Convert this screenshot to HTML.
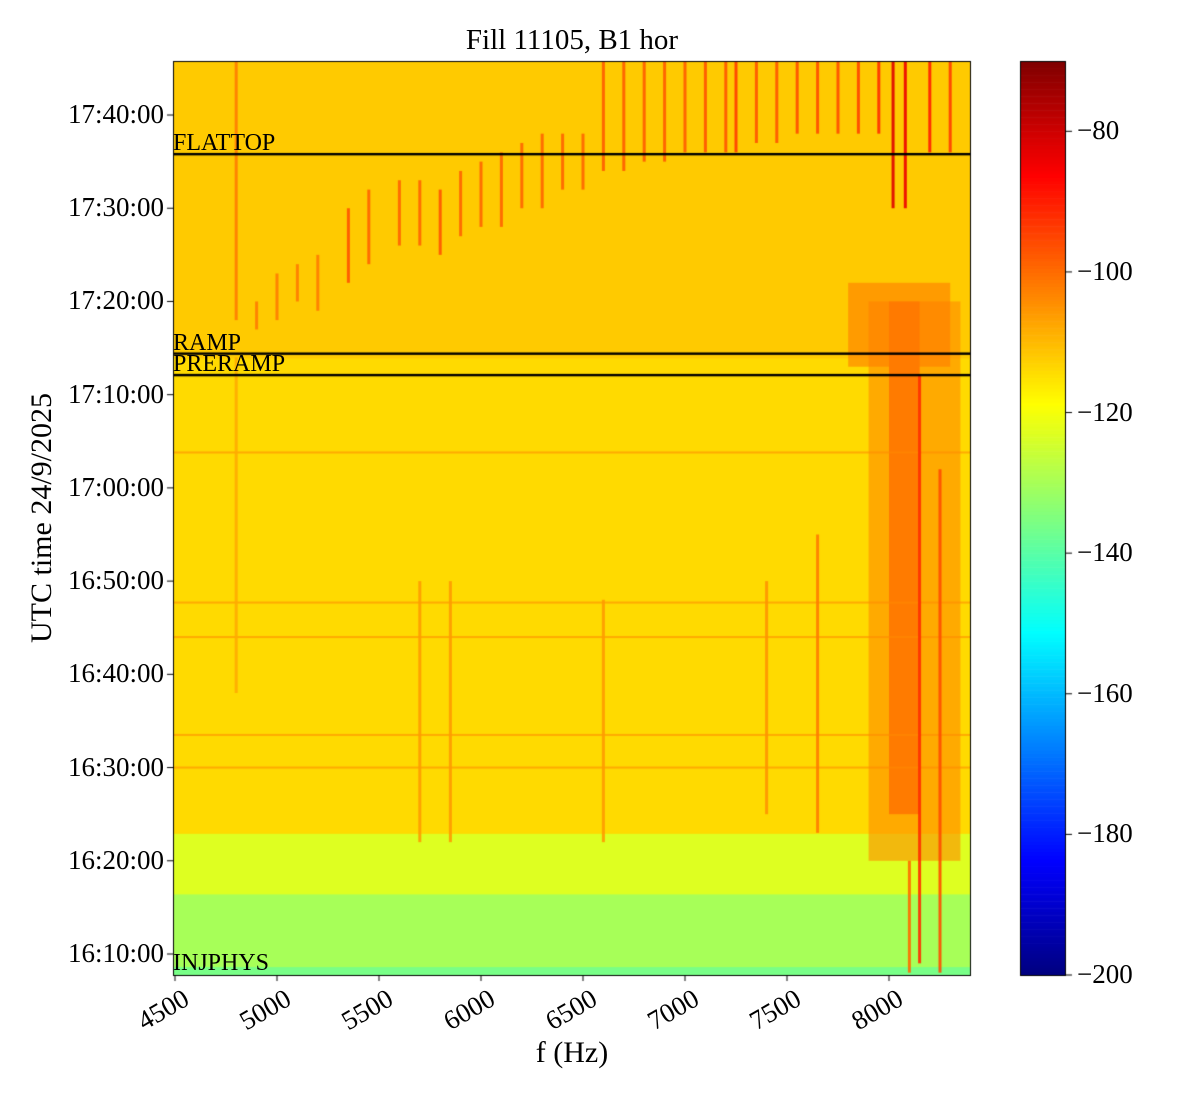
<!DOCTYPE html>
<html><head><meta charset="utf-8">
<style>
body{margin:0;background:#fff;}
#wrap{position:relative;width:1200px;height:1100px;font-family:"Liberation Serif",serif;color:#000;}
canvas{position:absolute;left:0;top:0;}
.t{position:absolute;white-space:nowrap;}
</style></head>
<body>
<div id="wrap">
<canvas id="c" width="1200" height="1100"></canvas>
<div class="t" style="left:0;width:1144px;top:24px;text-align:center;font-size:29px;">Fill 11105, B1 hor</div>
<div class="t" style="left:42px;top:518px;font-size:30px;transform:translate(-50%,-50%) rotate(-90deg);">UTC time 24/9/2025</div>
<div class="t" style="left:572px;top:1036px;transform:translateX(-50%);font-size:30px;">f (Hz)</div>
<div id="labels"></div>
</div>
<script>
// ---- data ----
const timeBandStarts=[7.75,8.7,16.5,23,74];          // minutes after 16:00
const timeBandEnds=[8.7,16.5,23,74,105.8];
const timeBandLevels=[-136,-130,-123,-114,-112];
const blobFreqLo=[7900,8000,7800];
const blobFreqHi=[8350,8150,8300];
const blobTStart=[20,25,73];
const blobTEnd=[80,80,82];
const blobLevels=[-104,-98,-102];
const lineFreqs=[4800,4900,5000,5100,5200,5350,5450,5600,5700,5800,5900,6000,6100,6200,6300,6400,6500,6600,6700,6800,6900,7000,7100,7200,7250,7350,7450,7550,7650,7750,7850,7950,8020,8080,8200,8300,
 4800,5700,5850,6600,7400,7650,8150,8250,8100];
const lineTStart=[78,77,78,80,79,82,84,86,86,85,87,88,88,90,90,92,92,94,94,95,95,96,96,96,96,97,97,98,98,98,98,98,90,90,96,96,
 38,22,22,22,25,23,9,8,8];
const lineTEnd=[106,80,83,84,85,90,92,93,93,92,94,95,96,97,98,98,98,106,106,106,106,106,106,106,106,106,106,106,106,106,106,106,106,106,106,106,
 74,50,50,48,50,55,72,62,20];
const lineLevels=[-102,-102,-102,-102,-102,-97,-99,-99,-99,-97,-99,-99,-99,-99,-99,-99,-99,-98,-98,-98,-98,-98,-97,-97,-94,-97,-97,-96,-96,-96,-95,-92,-82,-84,-90,-94,
 -108,-106,-106,-106,-105,-102,-92,-96,-100];
const hLineTimes=[63.8,47.7,44,33.5,30];
const markerTimes=[95.8,74.4,72.1];
const markerNames=["FLATTOP","RAMP","PRERAMP"];
const xTicks=[4500,5000,5500,6000,6500,7000,7500,8000];
const yTickMins=[10,20,30,40,50,60,70,80,90,100];
const yTickLabels=["16:10:00","16:20:00","16:30:00","16:40:00","16:50:00","17:00:00","17:10:00","17:20:00","17:30:00","17:40:00"];
const cbTicks=[-80,-100,-120,-140,-160,-180,-200];

// ---- axes ----
const X0=173,X1=971,Y0=61,Y1=975;
const xOf=f=>175+(f-4500)*0.204;
const yOf=m=>954-(m-10)*9.322;
const cbY=v=>975-(v+200)*(914/130);
function jet(v){const x=Math.max(0,Math.min(1,(v+200)/130));const c=t=>Math.round(255*Math.max(0,Math.min(1,1.5-Math.abs(4*x-t))));return `rgb(${c(3)},${c(2)},${c(1)})`;}
const ctx=document.getElementById('c').getContext('2d');
ctx.save();ctx.beginPath();ctx.rect(X0,Y0,X1-X0,Y1-Y0);ctx.clip();
for(let i=0;i<timeBandLevels.length;i++){ctx.fillStyle=jet(timeBandLevels[i]);const a=yOf(timeBandEnds[i]),b=yOf(timeBandStarts[i]);ctx.fillRect(X0,a,X1-X0,b-a+1);}
ctx.globalAlpha=0.6;
for(let i=0;i<blobLevels.length;i++){ctx.fillStyle=jet(blobLevels[i]);const a=yOf(blobTEnd[i]),b=yOf(blobTStart[i]);ctx.fillRect(xOf(blobFreqLo[i]),a,xOf(blobFreqHi[i])-xOf(blobFreqLo[i]),b-a);}
ctx.globalAlpha=0.6;
for(const t of hLineTimes){ctx.fillStyle=jet(-104);ctx.fillRect(X0,yOf(t)-1,X1-X0,2);}
ctx.globalAlpha=0.9;
for(let i=0;i<lineFreqs.length;i++){ctx.fillStyle=jet(lineLevels[i]);const a=yOf(lineTEnd[i]),b=yOf(lineTStart[i]);ctx.fillRect(xOf(lineFreqs[i])-1.5,a,3,b-a);}
ctx.globalAlpha=1;
ctx.fillStyle='#000';
for(const t of markerTimes){ctx.fillRect(X0,yOf(t)-1.2,X1-X0,2.4);}
ctx.restore();
ctx.strokeStyle='#000';ctx.lineWidth=1;ctx.strokeRect(X0+0.5,Y0+0.5,X1-X0-1,Y1-Y0);
for(const f of xTicks){ctx.beginPath();ctx.moveTo(xOf(f),Y1);ctx.lineTo(xOf(f),Y1+6);ctx.stroke();}
for(const m of yTickMins){ctx.beginPath();ctx.moveTo(X0,yOf(m));ctx.lineTo(X0-6,yOf(m));ctx.stroke();}
for(let v=-200;v<-70;v+=0.5){ctx.fillStyle=jet(v+0.25);ctx.fillRect(1020,cbY(v+0.5),46,cbY(v)-cbY(v+0.5)+0.6);}
ctx.strokeRect(1020.5,61.5,45,914);
for(const v of cbTicks){ctx.beginPath();ctx.moveTo(1066,cbY(v));ctx.lineTo(1072,cbY(v));ctx.stroke();}

const L=document.getElementById('labels');
function lab(txt,css,name){const d=document.createElement('div');d.className='t';d.style.cssText=css;d.textContent=txt;


L.appendChild(d);}
xTicks.forEach(f=>lab(String(f),`left:${xOf(f)+4}px;top:${Y1+8}px;font-size:27px;transform:translate(-100%,0) rotate(-30deg);transform-origin:100% 0;`,'x-tick-label'));
yTickMins.forEach((m,i)=>lab(yTickLabels[i],`right:${1200-X0+9}px;top:${yOf(m)-16}px;font-size:27px;`,'y-tick-label'));
cbTicks.forEach(v=>lab('\u2212'+Math.abs(v),`left:1077px;top:${cbY(v)-16}px;font-size:27px;`,'colorbar-tick-label'));
markerTimes.forEach((t,i)=>lab(markerNames[i],`left:${X0}px;top:${yOf(t)-24}px;font-size:24px;`,'marker-label-'+markerNames[i].toLowerCase()));
lab('INJPHYS',`left:${X0}px;top:${Y1-25}px;font-size:24px;`,'marker-label-injphys');
</script>
</body></html>
